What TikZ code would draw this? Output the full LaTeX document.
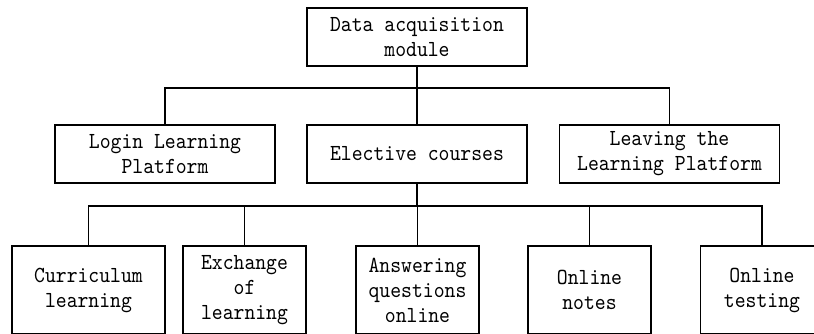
\documentclass[tikz,border=0pt]{standalone}
\usepackage{fontspec}
\newfontfamily\boxtt[Extension=.otf,FakeStretch=0.9]{lmmono10-regular}
\newcommand{\boxfont}{\boxtt\fontsize{23}{25}\selectfont}
\tikzset{
  modbox/.style={draw,line width=1.1pt,minimum width=220,minimum height=58,align=center,inner sep=2pt,font=\boxfont},
  leafbox/.style={modbox,minimum height=88},
  link/.style={line width=1.1pt},
}

\begin{document}
\begin{tikzpicture}[x=1pt,y=-1pt]
  \clip (0,0) rectangle (814,333);
  % top module
  \node[modbox] (acq) at (417,37) {Data acquisition\\module};
  % second row
  \node[modbox] (login) at (165,154) {Login Learning\\Platform};
  \node[modbox] (elect) at (417,154) {Elective courses};
  \node[modbox] (leave) at (669.5,154) {Leaving the\\Learning Platform};
  % third row
  \foreach \n/\x/\w/\t in {curr/88.5/153/Curriculum\\learning,
                           exch/244.5/123/Exchange\\of\\learning,
                           answ/417.5/123/Answering\\questions\\online,
                           note/589.5/123/Online\\notes,
                           test/762/123/Online\\testing} {
    \node[leafbox,minimum width=\w] (\n) at (\x,290) {\t};
  }
  \coordinate (j1) at (417,88);
  \coordinate (j2) at (417,206);
  \draw[link] (acq.south) -- (j1);
  \draw[link] (j1) -| (login.north);
  \draw[link] (j1) -- (elect.north);
  \draw[link] (j1) -| (leave.north);
  \draw[link] (elect.south) -- (j2);
  \foreach \n in {curr,exch,answ,note,test} {\draw[link] (j2) -| (\n.north);}
\end{tikzpicture}
\end{document}
